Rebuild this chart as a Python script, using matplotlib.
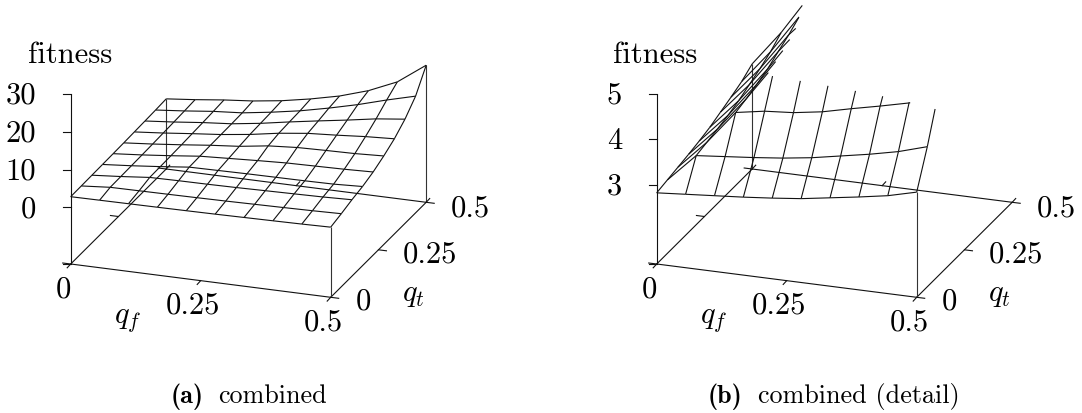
"""Two wireframe fitness surfaces drawn with a fixed parallel projection."""

import matplotlib
matplotlib.use("Agg")
import matplotlib.pyplot as plt
import numpy as np

plt.rcParams["font.family"] = "cmr10"
plt.rcParams["mathtext.fontset"] = "cm"
plt.rcParams["axes.formatter.use_mathtext"] = True

Q_F = [0.5 * i / 9 for i in range(10)]
Q_T = [0.5 * k / 9 for k in range(10)]

# fitness[qf index][qt index]
FITNESS = [
    [2.82, 2.87, 2.92, 2.97, 3.03, 3.10, 3.20, 3.30, 3.41, 3.57],
    [2.87, 3.49, 3.55, 3.61, 3.68, 3.77, 3.89, 4.01, 4.15, 4.34],
    [2.92, 3.55, 4.29, 4.36, 4.45, 4.55, 4.70, 4.84, 5.01, 5.24],
    [2.97, 3.61, 4.40, 5.20, 5.30, 5.40, 5.45, 5.50, 5.60, 5.95],
    [3.03, 3.68, 4.45, 5.30, 5.70, 6.10, 6.45, 6.60, 6.75, 7.00],
    [3.10, 3.77, 4.55, 5.40, 6.10, 7.20, 7.75, 7.95, 8.10, 8.45],
    [3.20, 3.89, 4.70, 5.45, 6.45, 7.75, 8.70, 9.20, 9.80, 10.20],
    [3.30, 4.01, 4.84, 5.50, 6.60, 7.95, 9.20, 10.40, 11.70, 12.60],
    [3.41, 4.15, 4.99, 5.60, 6.75, 8.10, 9.80, 11.70, 13.90, 15.90],
    [3.57, 4.34, 5.24, 5.95, 7.00, 8.45, 10.20, 12.60, 15.90, 21.30],
]

LEFT_Z_TICKS = [0, 10, 20, 30]
RIGHT_Z_TICKS = [3, 4, 5]
PLANE_TICKS = [0, 0.25, 0.5]
PLANE_TICK_LABELS = ["0", "0.25", "0.5"]

BLACK = "#111111"


def draw_panel(ax, x0, z_base, z_top, z_scale, z_ticks, caption_tag, caption, caption_x, caption_gap):
    def project(qf, qt, z):
        # parallel projection onto figure pixels, origin corner at (x0, 265)
        qf, qt, z = np.asarray(qf), np.asarray(qt), np.asarray(z)
        return (x0 + 520.0 * qf + 191.0 * qt,
                265.0 + 66.6 * qf - 190.0 * qt - (z - z_base) * z_scale)

    def seg(qf, qt, z, lw=0.8, color=BLACK):
        px, py = project(qf, qt, z)
        ax.plot(px, py, color=color, lw=lw, solid_capstyle="butt", zorder=2)

    def clipped(qf, qt, z):
        # cut the polyline where it leaves the z range
        for j in range(len(z) - 1):
            z1, z2 = z[j], z[j + 1]
            if z1 > z_top and z2 > z_top:
                continue
            t1, t2 = 0.0, 1.0
            if z2 > z_top:
                t2 = (z_top - z1) / (z2 - z1)
            if z1 > z_top:
                t1 = (z_top - z1) / (z2 - z1)
            ends = np.array([t1, t2])
            seg(qf[j] + ends * (qf[j + 1] - qf[j]),
                qt[j] + ends * (qt[j + 1] - qt[j]),
                z1 + ends * (z2 - z1))

    # base frame
    seg([0, 0.5, 0.5, 0, 0], [0, 0, 0.5, 0.5, 0], [z_base] * 5)
    seg([0, 0], [0, 0], [z_base, z_ticks[-1]])

    # drop lines to the surface corners
    table = np.array(FITNESS)
    for i, k in [(9, 0), (0, 9), (9, 9)]:
        if table[i, k] <= z_top:
            seg([Q_F[i]] * 2, [Q_T[k]] * 2, [z_base, table[i, k]], color="#333333")

    # wireframe
    qf_arr = np.array(Q_F)
    qt_arr = np.array(Q_T)
    for i in range(10):
        clipped(np.full(10, qf_arr[i]), qt_arr, table[i, :])
    for k in range(10):
        clipped(qf_arr, np.full(10, qt_arr[k]), table[:, k])

    # z ticks
    for tick in [z_base] + z_ticks:
        px, py = project(0, 0, tick)
        ax.plot([px - 8, px], [py, py], color=BLACK, lw=0.8, zorder=2)
    for tick in z_ticks:
        px, py = project(0, 0, tick)
        ax.text(px - 34.5, py + 1, str(tick), ha="right", va="center", fontsize=22)

    # plane ticks: outward on every side of the base frame
    for tick, label in zip(PLANE_TICKS, PLANE_TICK_LABELS):
        px, py = project(tick, 0, z_base)
        ax.plot([px, px - 3.5], [py, py + 3.8], color=BLACK, lw=0.8)
        px, py = project(tick, 0.5, z_base)
        ax.plot([px, px + 3.5], [py, py - 3.8], color=BLACK, lw=0.8)
        px, py = project(0, tick, z_base)
        ax.plot([px, px - 8], [py, py - 1], color=BLACK, lw=0.8)
        px, py = project(0.5, tick, z_base)
        ax.plot([px, px + 8], [py, py + 1], color=BLACK, lw=0.8)

    dx = x0 - 70.7
    for x, y, label in [(63, 290, "0"), (193, 306, "0.25"), (323, 323, "0.5"),
                        (363, 302, "0"), (430, 255, "0.25"), (470, 209, "0.5")]:
        ax.text(x + dx, y, label, ha="center", va="center", fontsize=22)
    ax.text(128 + dx, 320, r"$q_f$", ha="center", va="center", fontsize=22)
    ax.text(413 + dx, 295, r"$q_t$", ha="center", va="center", fontsize=22)
    ax.text(28 if x0 < 500 else 613, 63, "fitness", ha="left", va="baseline", fontsize=22)

    ax.text(caption_x, 403, caption_tag, ha="left", va="baseline", fontsize=18.8,
            family="cmb10")
    ax.text(caption_x + caption_gap, 403, caption, ha="left", va="baseline", fontsize=18.8)


fig = plt.figure(figsize=(10.82, 4.14), dpi=100)
ax = fig.add_axes([0, 0, 1, 1])
ax.set_xlim(0, 1082)
ax.set_ylim(414, 0)
ax.axis("off")

draw_panel(ax, 70.7, -15.0, 40.0, 3.777, LEFT_Z_TICKS, "(a)", "combined", 171, 47)
draw_panel(ax, 656.7, 1.25, 5.0, 45.33, RIGHT_Z_TICKS, "(b)", "combined (detail)", 708, 50)

fig.savefig("out.png", dpi=100)
